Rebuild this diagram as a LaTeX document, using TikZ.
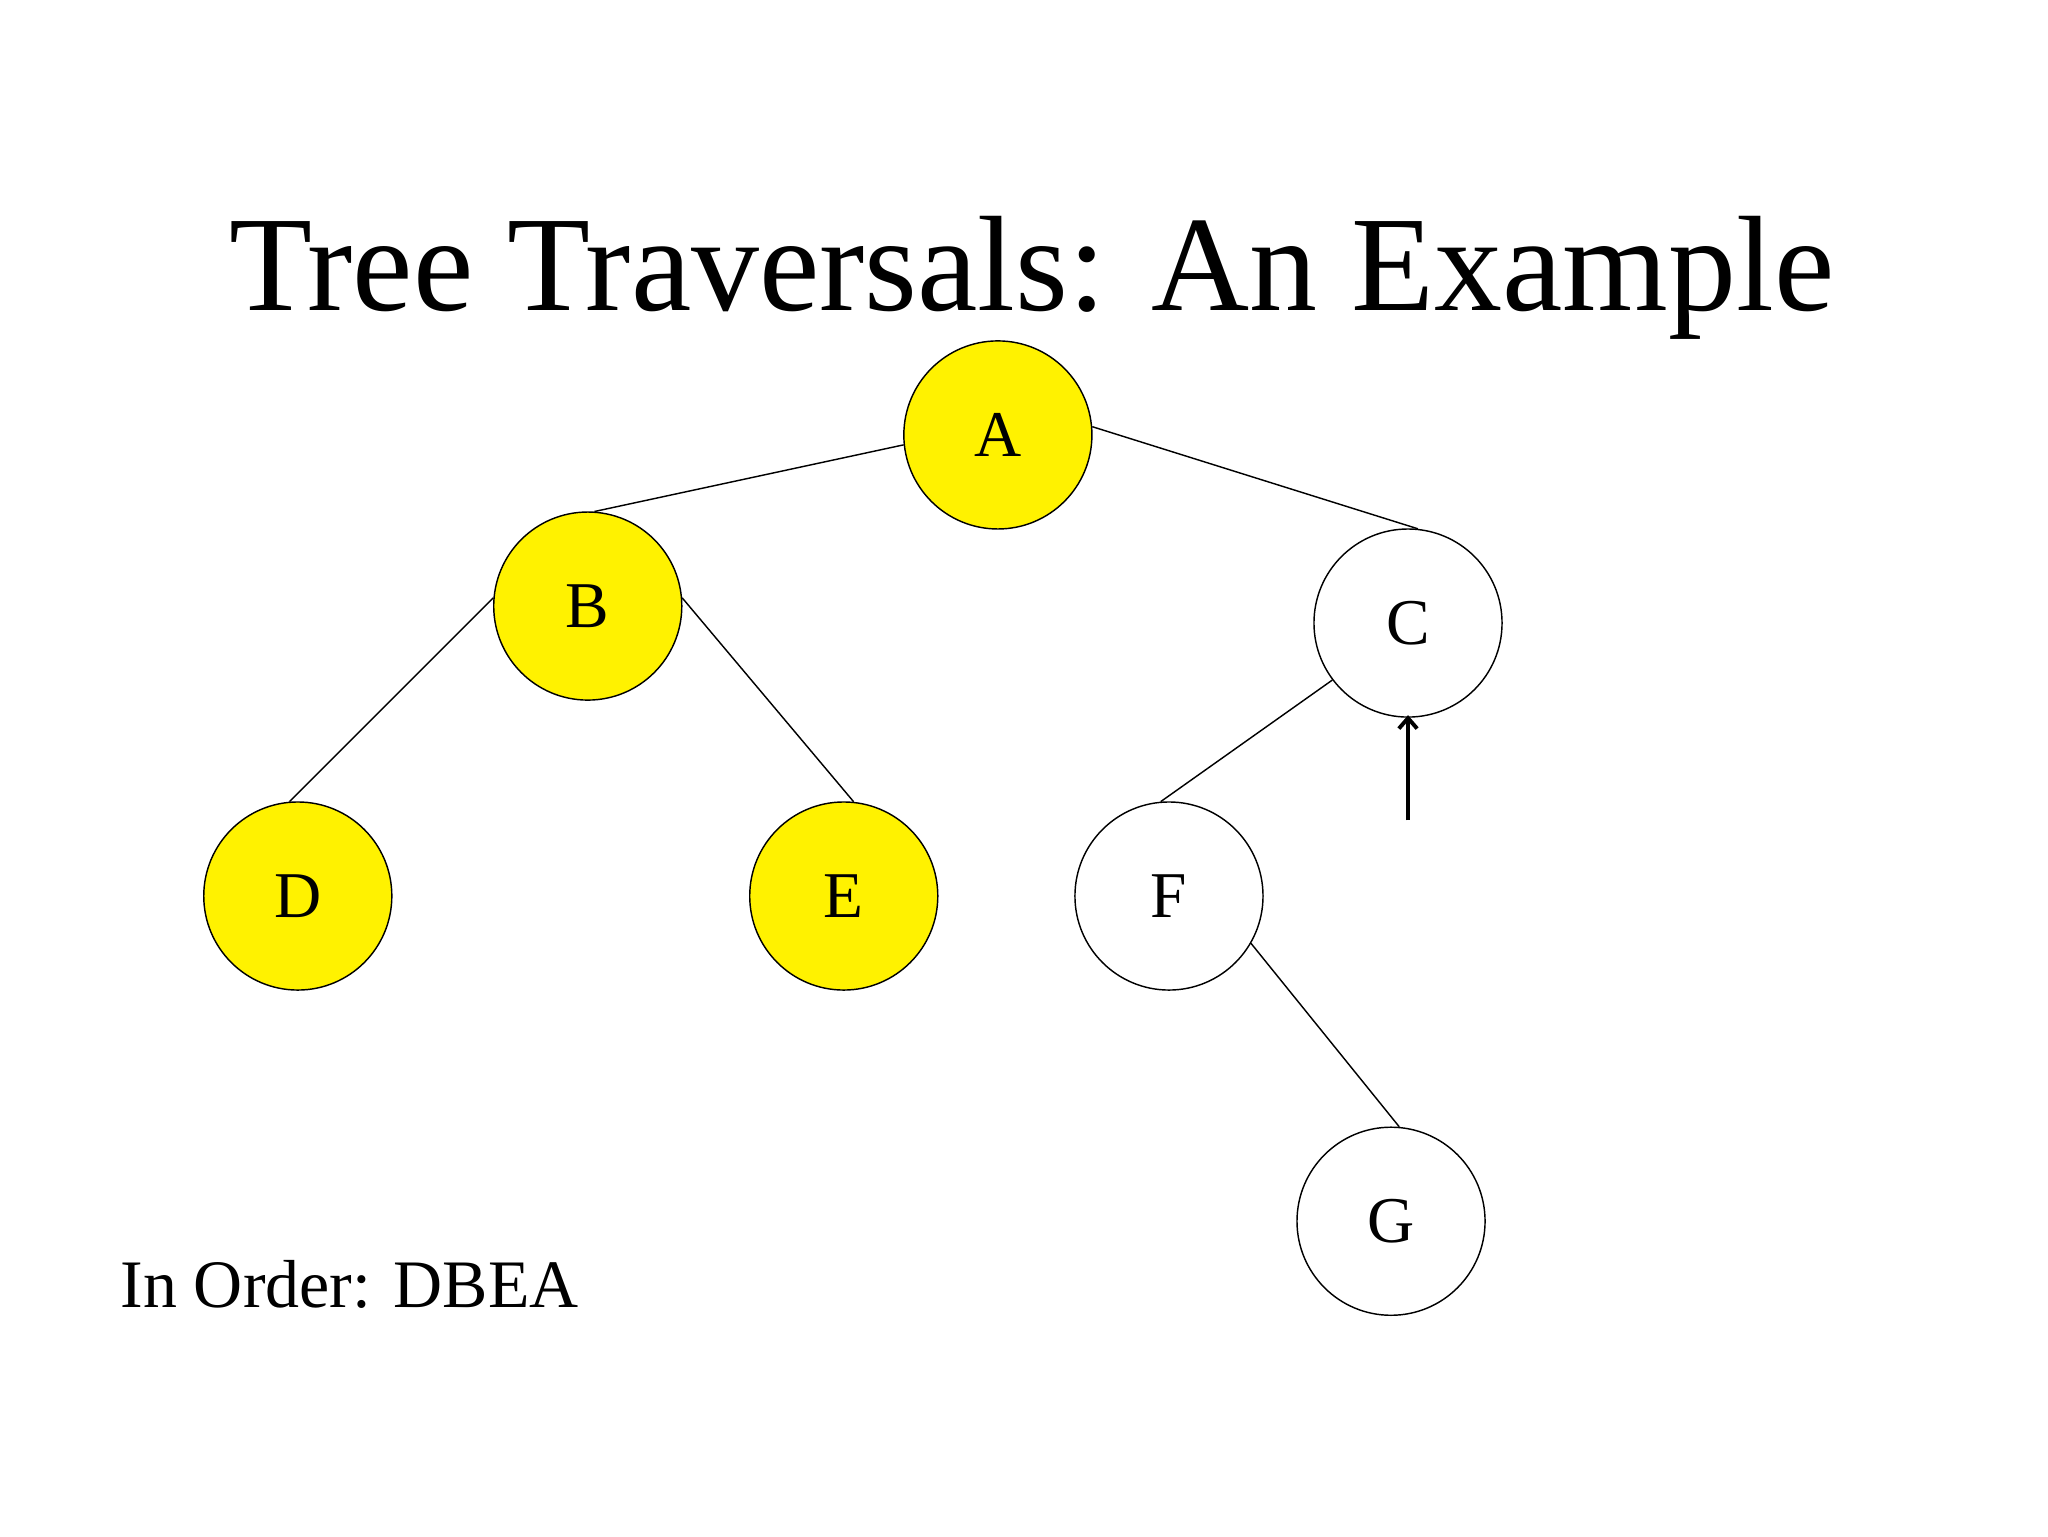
\documentclass[tikz,border=0pt]{standalone}
\usepackage{fontspec}
\setmainfont{Liberation Serif}
\usetikzlibrary{arrows.meta}
\begin{document}
\begin{tikzpicture}[x=1pt,y=-1pt,
  tn/.style={circle,draw=black,line width=1.1pt,minimum size=144pt,inner sep=0pt,font=\fontsize{50}{56}\selectfont},
  hl/.style={tn,fill=yellow},
  ed/.style={line width=1.1pt}]
\useasboundingbox (0,0) rectangle (1568,1176);
\node[anchor=base,font=\fontsize{104}{110}\selectfont] (title) at (790,238) {Tree Traversals: An Example};
\node[hl] (A) at (764,333) {A};
\node[hl] (B) at (450,464) {B};
\node[tn] (C) at (1078,477) {C};
\node[hl] (D) at (228,686) {D};
\node[hl] (E) at (646,686) {E};
\node[tn] (F) at (895,686) {F};
\node[tn] (G) at (1065,935) {G};
\draw[ed] (A.186) -- (B.86);
\draw[ed] (A.5) -- (C.84);
\draw[ed] (B.175) -- (D.95);
\draw[ed] (B.5) -- (E.84);
\draw[ed] (C.217) -- (F.95);
\draw[ed] (F.330) -- (G.85);
\coordinate (ar) at (1078,628);
\draw[line width=3pt,-{Straight Barb[length=8pt,width=14pt]}] (ar) -- ([yshift=2pt]C.south);
\node[anchor=base west,font=\fontsize{52}{58}\selectfont,inner sep=0pt] (io) at (92,1001) {In Order: DBEA};
\end{tikzpicture}
\end{document}
